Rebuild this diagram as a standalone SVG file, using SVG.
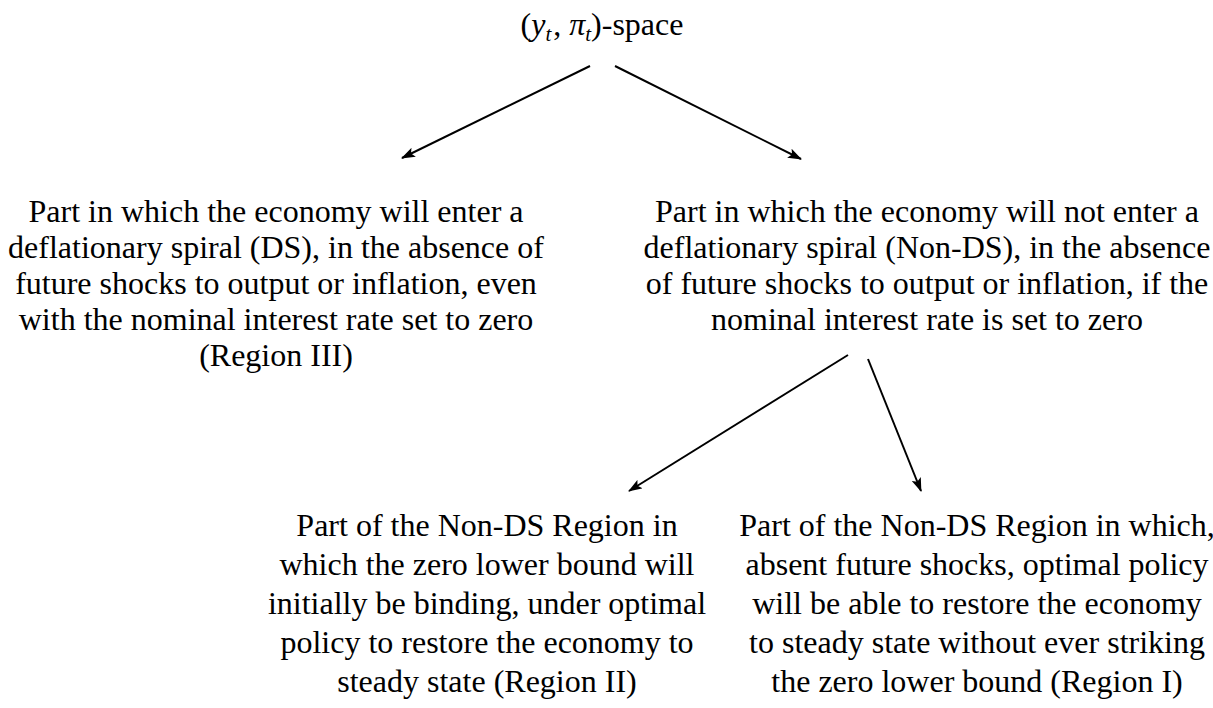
<svg xmlns="http://www.w3.org/2000/svg" width="1213" height="708" viewBox="0 0 1213 708">
<style>
text{font-family:'Liberation Serif','Times New Roman','DejaVu Serif',serif;font-size:32px;fill:#000;text-anchor:middle}
.c line{stroke:#000;stroke-width:2}
.i{font-style:italic}
</style>
<defs>
<marker id="ah" markerWidth="14" markerHeight="10" refX="13" refY="5" orient="auto" markerUnits="userSpaceOnUse">
<path d="M0,0 L14,5 L0,10 L3,5 Z" fill="#000"/>
</marker>
</defs>
<rect width="1213" height="708" fill="#fff"/>
<g id="title"><text x="602" y="35">(<tspan class="i">y</tspan><tspan class="i" font-size="21" dy="6">t</tspan><tspan dy="-6" dx="2">, </tspan><tspan class="i">π</tspan><tspan class="i" font-size="21" dy="6">t</tspan><tspan dy="-6">)-space</tspan></text></g>
<g id="ds">
<text x="276" y="222">Part in which the economy will enter a</text>
<text x="276" y="258">deflationary spiral (DS), in the absence of</text>
<text x="276" y="294">future shocks to output or inflation, even</text>
<text x="276" y="330">with the nominal interest rate set to zero</text>
<text x="276" y="366">(Region III)</text>
</g>
<g id="nonds">
<text x="927" y="222">Part in which the economy will not enter a</text>
<text x="927" y="258">deflationary spiral (Non-DS), in the absence</text>
<text x="927" y="294">of future shocks to output or inflation, if the</text>
<text x="927" y="330">nominal interest rate is set to zero</text>
</g>
<g id="region2">
<text x="487" y="536">Part of the Non-DS Region in</text>
<text x="487" y="575">which the zero lower bound will</text>
<text x="487" y="614">initially be binding, under optimal</text>
<text x="487" y="653">policy to restore the economy to</text>
<text x="487" y="692">steady state (Region II)</text>
</g>
<g id="region1">
<text x="977" y="536">Part of the Non-DS Region in which,</text>
<text x="977" y="575">absent future shocks, optimal policy</text>
<text x="977" y="614">will be able to restore the economy</text>
<text x="977" y="653">to steady state without ever striking</text>
<text x="977" y="692">the zero lower bound (Region I)</text>
</g>
<g class="c" id="connectors">
<line x1="590" y1="66" x2="402" y2="158" marker-end="url(#ah)"/>
<line x1="615" y1="66" x2="801" y2="159" marker-end="url(#ah)"/>
<line x1="848" y1="355" x2="629" y2="491" marker-end="url(#ah)"/>
<line x1="868" y1="359" x2="921" y2="491" marker-end="url(#ah)"/>
</g>
</svg>
